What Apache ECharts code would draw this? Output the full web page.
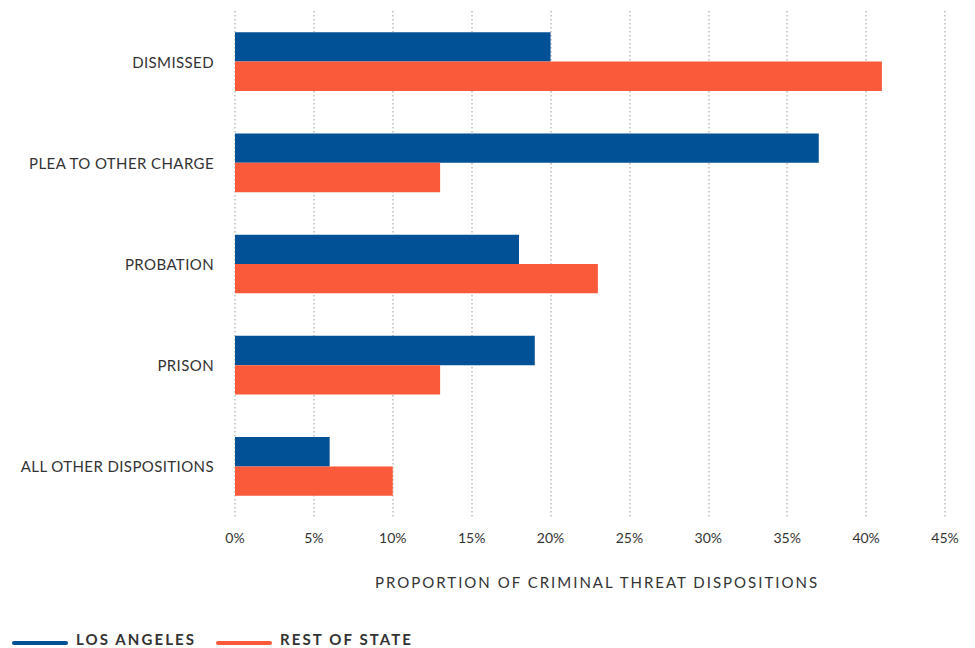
<!DOCTYPE html>
<html>
<head>
<meta charset="utf-8">
<script src="https://cdn.jsdelivr.net/npm/echarts@6/dist/echarts.min.js"></script>
<style>
  html, body { margin: 0; padding: 0; background: #fff; }
  #chart { width: 975px; height: 648px; }
</style>
</head>
<body>
<div id="chart"></div>
<script>
const categories = ['DISMISSED', 'PLEA TO OTHER CHARGE', 'PROBATION', 'PRISON', 'ALL OTHER DISPOSITIONS'];
const losAngeles = [20, 37, 18, 19, 6];
const restOfState = [41, 13, 23, 13, 10];
const seriesNames = ['LOS ANGELES', 'REST OF STATE'];
const axisTitle = 'PROPORTION OF CRIMINAL THREAT DISPOSITIONS';

const BLUE = '#005195';
const ORANGE = '#FB5A3A';
const TEXT = '#333333';
const FONT = 'Lato, "Noto Sans", sans-serif';

const chart = echarts.init(document.getElementById('chart'), null, { renderer: 'svg' });

const lineIcon = 'path://M2,0 L55,0 A2,2 0 0 1 55,4 L2,4 A2,2 0 0 1 2,0 Z';

chart.setOption({
  animation: false,
  textStyle: { fontFamily: FONT, color: TEXT },
  grid: { left: 235, right: 30, top: 11, bottom: 131 },
  legend: {
    left: 12,
    top: 634,
    padding: 0,
    itemWidth: 56,
    itemHeight: 4,
    itemGap: 15,
    icon: lineIcon,
    textStyle: {
      fontFamily: FONT, fontSize: 15, fontWeight: 'bold', color: TEXT,
      lineHeight: 18, width: 125, padding: [0, 0, 0, 3]
    },
    data: seriesNames
  },
  xAxis: {
    type: 'value',
    min: 0,
    max: 45,
    interval: 5,
    name: axisTitle,
    nameLocation: 'middle',
    nameGap: 57,
    nameTextStyle: { fontFamily: FONT, fontSize: 15, color: TEXT, padding: [0, 0, 0, 14] },
    axisLine: { show: false },
    axisTick: { show: false },
    axisLabel: { formatter: '{value}%', fontSize: 14, color: TEXT, margin: 13 },
    splitLine: { show: true, lineStyle: { type: [1.5, 2.5], width: 1.5, color: '#bdbdbd' } }
  },
  yAxis: {
    type: 'category',
    inverse: true,
    data: categories,
    axisLine: { show: false },
    axisTick: { show: false },
    axisLabel: { fontSize: 15, color: TEXT, margin: 21 }
  },
  series: [
    {
      name: seriesNames[0],
      type: 'bar',
      data: losAngeles,
      itemStyle: { color: BLUE },
      barGap: '0%',
      barCategoryGap: '42%'
    },
    {
      name: seriesNames[1],
      type: 'bar',
      data: restOfState,
      itemStyle: { color: ORANGE },
      barGap: '0%',
      barCategoryGap: '42%'
    }
  ]
});

// Tracked spacing for the axis title, legend labels and category labels;
// legend labels also sit slightly above the centre of their line swatch
function applySpacing() {
  const texts = document.querySelectorAll('#chart svg text');
  texts.forEach(t => {
    const s = t.textContent;
    if (s === axisTitle) t.style.letterSpacing = '2px';
    else if (seriesNames.includes(s)) {
      t.style.letterSpacing = '2.1px';
      t.setAttribute('dy', '-4');
    }
    else if (categories.includes(s)) t.style.letterSpacing = '0.4px';
  });
}
chart.on('finished', applySpacing);
applySpacing();
</script>
</body>
</html>
